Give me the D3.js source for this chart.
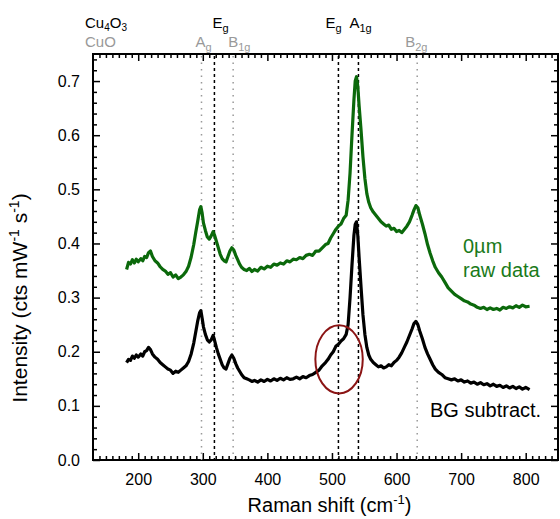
<!DOCTYPE html>
<html>
<head>
<meta charset="utf-8">
<script src="https://cdn.jsdelivr.net/npm/d3@7"></script>
<style>
  body { margin: 0; background: #fff; }
  svg { font-family: "Liberation Sans", Arial, sans-serif; }
</style>
</head>
<body>
<div id="chart"></div>
<script>
// Raman shift (cm-1) sampled along the curves
var shift = [182,185,188,191,194,197,200,204,207,210,213,216,219,222,226,230,234,238,242,246,
    250,254,258,262,266,270,274,278,282,286,289,292,295,297,299,301,304,307,310,313,
    316,318,321,324,327,330,333,336,339,342,345,348,351,354,357,360,364,368,372,376,
    380,385,390,395,400,405,410,415,420,425,430,435,440,445,450,455,460,465,470,475,
    480,485,490,494,498,502,506,510,514,518,522,525,528,531,534,536,538,540,542,545,
    548,551,554,557,560,564,568,572,576,580,584,588,592,596,600,604,608,612,616,620,
    624,627,630,633,636,640,644,648,652,656,660,665,670,675,680,685,690,695,700,705,
    710,715,720,725,730,735,740,745,750,755,760,765,770,775,780,785,790,795,800,806];

// 0um raw data
var rawData = [0.352,0.365,0.362,0.370,0.364,0.371,0.366,0.372,0.368,0.376,0.374,0.383,0.386,0.376,0.368,0.364,0.357,0.352,0.349,0.343,
    0.346,0.338,0.342,0.335,0.338,0.342,0.348,0.358,0.375,0.398,0.420,0.440,0.462,0.468,0.456,0.438,0.424,0.412,0.408,0.414,
    0.422,0.416,0.404,0.392,0.380,0.372,0.368,0.366,0.376,0.386,0.392,0.388,0.378,0.370,0.362,0.356,0.352,0.350,0.354,0.348,
    0.352,0.349,0.356,0.353,0.358,0.356,0.362,0.360,0.364,0.362,0.368,0.366,0.371,0.370,0.374,0.372,0.378,0.380,0.378,0.386,
    0.386,0.392,0.398,0.400,0.410,0.418,0.426,0.432,0.436,0.446,0.452,0.480,0.530,0.600,0.665,0.700,0.708,0.690,0.655,0.610,
    0.560,0.520,0.492,0.476,0.466,0.458,0.452,0.446,0.440,0.436,0.432,0.434,0.426,0.428,0.422,0.424,0.420,0.426,0.432,0.440,
    0.452,0.462,0.470,0.466,0.452,0.436,0.418,0.398,0.382,0.368,0.356,0.346,0.338,0.328,0.318,0.312,0.306,0.302,0.298,0.294,
    0.292,0.288,0.286,0.282,0.280,0.282,0.278,0.281,0.278,0.280,0.277,0.282,0.280,0.283,0.281,0.285,0.282,0.286,0.283,0.284];

// background subtracted
var bgSubtracted = [0.180,0.186,0.184,0.192,0.188,0.194,0.190,0.196,0.192,0.200,0.202,0.208,0.204,0.196,0.190,0.186,0.180,0.176,0.172,0.168,
    0.166,0.160,0.164,0.162,0.166,0.170,0.174,0.182,0.196,0.216,0.236,0.256,0.272,0.276,0.262,0.246,0.232,0.222,0.218,0.222,
    0.230,0.222,0.208,0.196,0.186,0.176,0.170,0.168,0.178,0.188,0.194,0.188,0.178,0.170,0.164,0.158,0.152,0.150,0.148,0.145,
    0.147,0.144,0.148,0.145,0.149,0.146,0.150,0.147,0.151,0.148,0.152,0.149,0.150,0.153,0.150,0.154,0.152,0.156,0.158,0.162,
    0.166,0.174,0.180,0.186,0.194,0.200,0.210,0.214,0.220,0.224,0.232,0.250,0.300,0.360,0.415,0.435,0.440,0.415,0.375,0.320,
    0.268,0.232,0.208,0.194,0.186,0.180,0.176,0.172,0.174,0.170,0.172,0.176,0.174,0.180,0.184,0.190,0.198,0.208,0.218,0.230,
    0.242,0.252,0.256,0.250,0.238,0.224,0.208,0.196,0.186,0.176,0.168,0.162,0.158,0.152,0.150,0.148,0.150,0.146,0.148,0.144,
    0.146,0.142,0.144,0.140,0.143,0.139,0.141,0.137,0.140,0.136,0.138,0.134,0.137,0.133,0.136,0.132,0.135,0.131,0.134,0.130];

// phonon modes
var cu4o3Modes = [318, 510, 541];
var cu4o3Labels = [["E", "g"], ["E", "g"], ["A", "1g"]];
var cuoModes = [298, 347, 632];
var cuoLabels = [["A", "g"], ["B", "1g"], ["B", "2g"]];

var xTicks = [200, 300, 400, 500, 600, 700, 800];
var yTicks = [0.0, 0.1, 0.2, 0.3, 0.4, 0.5, 0.6, 0.7];

// circled shoulder: centre (cm-1, intensity) and half-axes
var ellipseCentre = [511, 0.186];
var ellipseRadii = [36.7, 0.063];

var margin = {top: 54, right: 2, bottom: 59, left: 93};
var width = 560 - margin.left - margin.right;
var height = 519 - margin.top - margin.bottom;

var svg = d3.select("#chart").append("svg")
    .attr("width", 560)
    .attr("height", 519);

var g = svg.append("g")
    .attr("transform", "translate(" + margin.left + "," + margin.top + ")");

var x = d3.scaleLinear().domain([130, 850]).range([0, width]);
var y = d3.scaleLinear().domain([0, 0.75]).range([height, 0]);

var minorX = d3.range(140, 850, 10).filter(function(d) { return d % 100 != 0; });
var minorY = d3.range(0.02, 0.75, 0.02).filter(function(d) { return Math.abs(d * 10 - Math.round(d * 10)) > 0.01; });

// axes, ticks pointing inward
function styleAxis(sel) {
    sel.select(".domain").remove();
    sel.selectAll(".tick line").attr("stroke", "#000").attr("stroke-width", 1.5);
    sel.selectAll("text").attr("fill", "#000").style("font-size", "16px");
}

g.append("g").attr("transform", "translate(0," + height + ")")
    .call(d3.axisBottom(x).tickValues(xTicks).tickSizeInner(-7).tickSizeOuter(0).tickPadding(14))
    .call(styleAxis);
g.append("g").attr("transform", "translate(0," + height + ")")
    .call(d3.axisBottom(x).tickValues(minorX).tickSizeInner(-4).tickSizeOuter(0).tickFormat(""))
    .call(styleAxis);
g.append("g")
    .call(d3.axisTop(x).tickValues(xTicks).tickSizeInner(-7).tickSizeOuter(0).tickFormat(""))
    .call(styleAxis);
g.append("g")
    .call(d3.axisTop(x).tickValues(minorX).tickSizeInner(-4).tickSizeOuter(0).tickFormat(""))
    .call(styleAxis);

g.append("g")
    .call(d3.axisLeft(y).tickValues(yTicks).tickSizeInner(-7).tickSizeOuter(0).tickPadding(13).tickFormat(d3.format(".1f")))
    .call(styleAxis);
g.append("g")
    .call(d3.axisLeft(y).tickValues(minorY).tickSizeInner(-4).tickSizeOuter(0).tickFormat(""))
    .call(styleAxis);
g.append("g").attr("transform", "translate(" + width + ",0)")
    .call(d3.axisRight(y).tickValues(yTicks).tickSizeInner(-7).tickSizeOuter(0).tickFormat(""))
    .call(styleAxis);
g.append("g").attr("transform", "translate(" + width + ",0)")
    .call(d3.axisRight(y).tickValues(minorY).tickSizeInner(-4).tickSizeOuter(0).tickFormat(""))
    .call(styleAxis);

// frame
g.append("rect")
    .attr("width", width)
    .attr("height", height)
    .attr("fill", "none")
    .attr("stroke", "#000")
    .attr("stroke-width", 2);

// mode reference lines
g.selectAll(".cuo-line")
    .data(cuoModes)
    .enter().append("line")
    .attr("class", "cuo-line")
    .attr("x1", function(d) { return x(d); })
    .attr("x2", function(d) { return x(d); })
    .attr("y1", 2)
    .attr("y2", height)
    .attr("stroke", "#999")
    .attr("stroke-width", 1.5)
    .attr("stroke-dasharray", "1.5,5");

g.selectAll(".cu4o3-line")
    .data(cu4o3Modes)
    .enter().append("line")
    .attr("class", "cu4o3-line")
    .attr("x1", function(d) { return x(d); })
    .attr("x2", function(d) { return x(d); })
    .attr("y1", 2)
    .attr("y2", height)
    .attr("stroke", "#000")
    .attr("stroke-width", 1.5)
    .attr("stroke-dasharray", "3,3");

// spectra
var line = d3.line()
    .x(function(d) { return x(d[0]); })
    .y(function(d) { return y(d[1]); });

g.append("path")
    .datum(d3.zip(shift, rawData))
    .attr("fill", "none")
    .attr("stroke", "#0b690b")
    .attr("stroke-width", 3.2)
    .attr("stroke-linejoin", "round")
    .attr("d", line);

g.append("path")
    .datum(d3.zip(shift, bgSubtracted))
    .attr("fill", "none")
    .attr("stroke", "#000")
    .attr("stroke-width", 3.2)
    .attr("stroke-linejoin", "round")
    .attr("d", line);

// circled shoulder
g.append("ellipse")
    .attr("cx", x(ellipseCentre[0]))
    .attr("cy", y(ellipseCentre[1]))
    .attr("rx", x(ellipseCentre[0] + ellipseRadii[0]) - x(ellipseCentre[0]))
    .attr("ry", y(0) - y(ellipseRadii[1]))
    .attr("fill", "none")
    .attr("stroke", "#8b1414")
    .attr("stroke-width", 2);

// series labels
var green = g.append("text")
    .attr("x", 370)
    .attr("y", 199)
    .attr("fill", "#1a7a1a")
    .style("font-size", "20px");
green.append("tspan").attr("x", 370).text("0\u00b5m");
green.append("tspan").attr("x", 370).attr("dy", 24).text("raw data");

g.append("text")
    .attr("x", 337)
    .attr("y", 363)
    .attr("fill", "#000")
    .style("font-size", "20px")
    .text("BG subtract.");

// axis titles
svg.append("text")
    .attr("x", margin.left + width / 2 + 4)
    .attr("y", 512)
    .attr("text-anchor", "middle")
    .style("font-size", "20px")
    .html("Raman shift (cm<tspan dy='-8' font-size='13px'>-1</tspan><tspan dy='8'>)</tspan>");

svg.append("text")
    .attr("transform", "translate(27,298) rotate(-90)")
    .attr("text-anchor", "middle")
    .style("font-size", "21px")
    .html("Intensity (cts mW<tspan dy='-8' font-size='14px'>-1</tspan><tspan dy='8'> s</tspan><tspan dy='-8' font-size='14px'>-1</tspan><tspan dy='8'>)</tspan>");

// mode labels above the frame
function modeLabel(sel, text, sub) {
    sel.append("tspan").text(text);
    sel.append("tspan").attr("dy", 4).style("font-size", "11px").text(sub);
}

svg.append("text").attr("x", 85).attr("y", 28).style("font-size", "15px").attr("fill", "#000")
    .call(function(t) {
        t.append("tspan").text("Cu");
        t.append("tspan").attr("dy", 3).style("font-size", "10px").text("4");
        t.append("tspan").attr("dy", -3).text("O");
        t.append("tspan").attr("dy", 3).style("font-size", "10px").text("3");
    });
svg.append("text").attr("x", 85).attr("y", 47).style("font-size", "15px").attr("fill", "#999").text("CuO");

var cu4o3Offsets = [-2, -13, -9];
var cuoOffsets = [-6, -5, -12];

cu4o3Modes.forEach(function(d, i) {
    svg.append("text")
        .attr("x", margin.left + x(d) + cu4o3Offsets[i])
        .attr("y", 28)
        .attr("fill", "#000")
        .style("font-size", "15px")
        .call(modeLabel, cu4o3Labels[i][0], cu4o3Labels[i][1]);
});

cuoModes.forEach(function(d, i) {
    svg.append("text")
        .attr("x", margin.left + x(d) + cuoOffsets[i])
        .attr("y", 47)
        .attr("fill", "#999")
        .style("font-size", "15px")
        .call(modeLabel, cuoLabels[i][0], cuoLabels[i][1]);
});
</script>
</body>
</html>
